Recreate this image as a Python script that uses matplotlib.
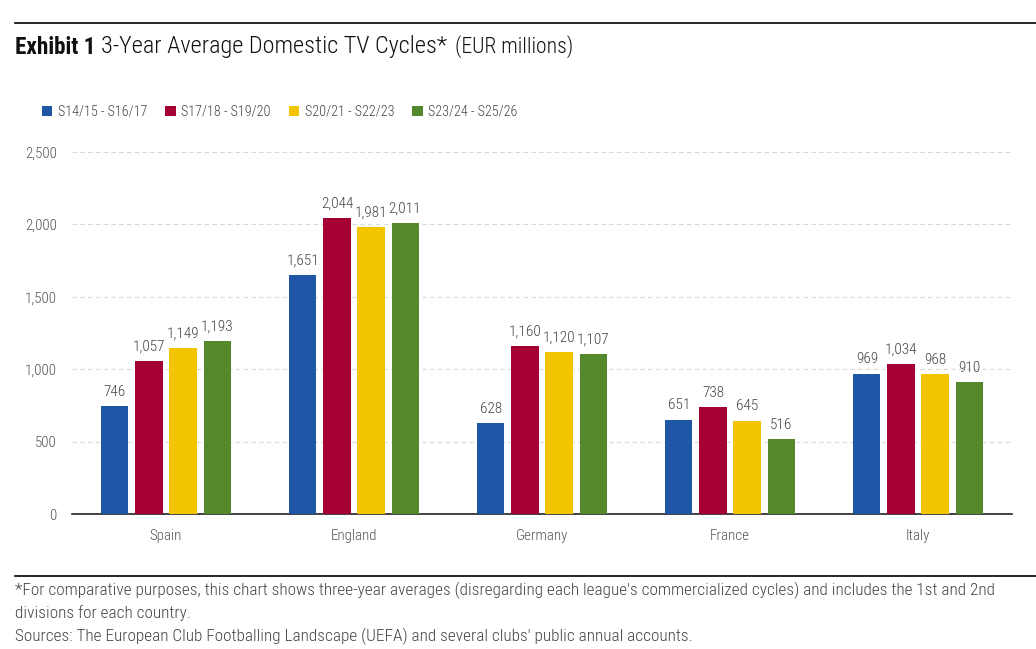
import numpy as np
import matplotlib
matplotlib.use("Agg")
import matplotlib.pyplot as plt
from matplotlib.patches import Patch

plt.rcParams["font.family"] = ["Roboto Condensed", "DejaVu Sans"]

countries = ["Spain", "England", "Germany", "France", "Italy"]
series_names = ["S14/15 - S16/17", "S17/18 - S19/20", "S20/21 - S22/23", "S23/24 - S25/26"]
s1 = [746, 1651, 628, 651, 969]
s2 = [1057, 2044, 1160, 738, 1034]
s3 = [1149, 1981, 1120, 645, 968]
s4 = [1193, 2011, 1107, 516, 910]
colors = ["#1F56A5", "#A50034", "#F2C500", "#548A2C"]
yticks = [0, 500, 1000, 1500, 2000, 2500]

W, H = 1036, 649
fig = plt.figure(figsize=(W / 100, H / 100), dpi=100)
renderer = fig.canvas.get_renderer()


def fit(txt, target):
    # shrink/grow a text so its width in pixels is close to target
    for _ in range(3):
        w = txt.get_window_extent(renderer).width
        txt.set_fontsize(txt.get_fontsize() * target / w)
    return txt


# axes in pixel coordinates
left, right, top, bottom = 72, 1012, 152, 514
ax = fig.add_axes([left / W, 1 - bottom / H, (right - left) / W, (bottom - top) / H])

x = np.arange(len(countries))
width = 0.144
step = 0.181
for i, (vals, c) in enumerate(zip([s1, s2, s3, s4], colors)):
    pos = x + (i - 1.5) * step
    ax.bar(pos, vals, width=width, color=c, zorder=3)
    for xp, v in zip(pos, vals):
        ax.text(xp, v + 50, f"{v:,}", ha="center", va="bottom", fontsize=11,
                color="#444444", fontweight="light")

ax.set_xlim(-0.5, 4.5)
ax.set_ylim(0, 2500)
ax.set_yticks(yticks)
ax.set_yticklabels([f"{t:,}" for t in yticks])
ax.set_xticks(x)
ax.set_xticklabels(countries)
ax.tick_params(axis="both", length=0, labelsize=10.8, colors="#555555")
ax.tick_params(axis="x", pad=10.5)
ax.tick_params(axis="y", pad=11)
for lab in ax.get_xticklabels() + ax.get_yticklabels():
    lab.set_fontweight("light")
ax.grid(axis="y", color="#d9d9d9", linestyle=(0, (4, 3)), linewidth=0.8, zorder=0)
for s in ["top", "right", "left"]:
    ax.spines[s].set_visible(False)
ax.spines["bottom"].set_color("#222222")
ax.spines["bottom"].set_linewidth(1.2)

# top and bottom rules
fig.add_artist(plt.Line2D([15 / W, 1], [1 - 23 / H, 1 - 23 / H], color="black", lw=1.2))
fig.add_artist(plt.Line2D([15 / W, 1], [1 - 576 / H, 1 - 576 / H], color="black", lw=1.2))

# title
ty = 1 - 47 / H
t1 = fit(fig.text(15 / W, ty, "Exhibit 1", fontsize=17, fontweight="bold", va="center",
                  color="#111111"), 80)
t2 = fit(fig.text(101 / W, ty, "3-Year Average Domestic TV Cycles*", fontsize=17,
                  va="center", color="#111111", fontweight="light"), 346)
t3 = fit(fig.text(455 / W, ty, "(EUR millions)", fontsize=14, va="center", color="#111111",
                  fontweight="light"), 118)

# legend
handles = [Patch(facecolor=c) for c in colors]
fig.legend(handles, series_names, loc="center left", bbox_to_anchor=(29 / W, 1 - 112 / H),
           ncol=4, frameon=False, handlelength=0.75, handleheight=0.75,
           handletextpad=0.4, columnspacing=1.25, labelcolor="#444444",
           prop={"weight": "light", "size": 10.2})

# footnotes
foot = [
    "*For comparative purposes, this chart shows three-year averages (disregarding each league's commercialized cycles) and includes the 1st and 2nd",
    "divisions for each country.",
    "Sources: The European Club Footballing Landscape (UEFA) and several clubs' public annual accounts.",
]
ft = [fig.text(15 / W, 1 - (590 + 23 * k) / H, line, fontsize=12.5, va="center",
               color="#444444", fontweight="light") for k, line in enumerate(foot)]
fit(ft[0], 976)
for t in ft[1:]:
    t.set_fontsize(ft[0].get_fontsize())

fig.savefig("out.png", dpi=100)
